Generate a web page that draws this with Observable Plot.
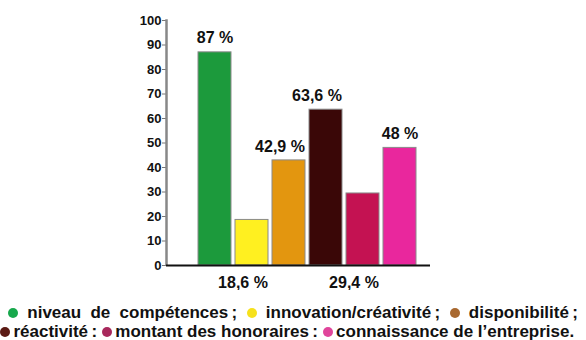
<!DOCTYPE html>
<html>
<head>
<meta charset="utf-8">
<script src="https://cdn.jsdelivr.net/npm/d3@7"></script>
<script src="https://cdn.jsdelivr.net/npm/@observablehq/plot@0.6"></script>
<style>
  html, body { margin: 0; padding: 0; background: #fff; }
  body { width: 586px; height: 340px; overflow: hidden; font-family: "Liberation Sans", Arial, sans-serif; }
  #legend { font-weight: bold; font-size: 17px; line-height: 19px; color: #111; padding: 13px 0 0 0; width: 578px; }
  #legend .l1 { text-align: justify; text-align-last: justify; padding-left: 8px; white-space: nowrap; }
  #legend .l2 { white-space: nowrap; }
  .dot { display: inline-block; width: 10px; height: 10px; border-radius: 50%; vertical-align: 0px; }
</style>
</head>
<body>
<div id="chart"></div>
<div id="legend"></div>
<script>
const categories = ["niveau de compétences", "innovation/créativité", "disponibilité", "réactivité", "montant des honoraires", "connaissance de l’entreprise"];
const values = [87, 18.6, 42.9, 63.6, 29.4, 48];
const valueLabels = ["87 %", "18,6 %", "42,9 %", "63,6 %", "29,4 %", "48 %"];
const labelBelow = [false, true, false, false, true, false];
const barColors = ["#1c9a3c", "#fff020", "#e3960f", "#3a0707", "#c41252", "#e9279d"];
const dotColors = ["#17a84c", "#f6e11c", "#a8682f", "#5a1a14", "#a8285c", "#e0459b"];
const yTicks = [0, 10, 20, 30, 40, 50, 60, 70, 80, 90, 100];

const data = categories.map((c, i) => ({i, cat: c, value: values[i], label: valueLabels[i], below: labelBelow[i], color: barColors[i]}));
const shifted = new Set([1, 2, 3, 4]);

const textOpts = {x: "cat", text: "label", fontSize: 16, fontWeight: "bold", fill: "#111"};

const chart = Plot.plot({
  width: 586,
  height: 290,
  marginLeft: 166,
  marginRight: 156,
  marginTop: 20,
  marginBottom: 25,
  style: {fontFamily: "Liberation Sans, Arial, sans-serif", background: "#fff"},
  x: {domain: categories, range: [194, 420], paddingInner: 0.1, paddingOuter: 0.05, axis: null},
  y: {domain: [0, 100], axis: null},
  marks: [
    Plot.barY(data, {x: "cat", y: "value", fill: "color", stroke: "#8a8a8a", strokeWidth: 1}),
    Plot.axisY({ticks: yTicks, label: null, tickSize: 4, tickPadding: 1, tickFormat: d => d, fontSize: 13, fontWeight: "bold", stroke: "#777", fill: "#111"}),
    Plot.frame({anchor: "left", stroke: "#888", strokeWidth: 2.5, strokeDasharray: "1.5,1"}),
    Plot.ruleY([0], {stroke: "#111", strokeWidth: 2}),
    Plot.text(data.filter(d => !d.below && !shifted.has(d.i)), {...textOpts, y: "value", dy: -14}),
    Plot.text(data.filter(d => !d.below && shifted.has(d.i)), {...textOpts, y: "value", dy: -14, dx: -9}),
    Plot.text(data.filter(d => d.below), {...textOpts, y: 0, dy: 17, dx: -9})
  ]
});
document.getElementById("chart").appendChild(chart);

const legend = document.getElementById("legend");
const line1 = document.createElement("div");
line1.className = "l1";
const line2 = document.createElement("div");
line2.className = "l2";
categories.forEach((c, i) => {
  const dot = `<span class="dot" style="background:${dotColors[i]}"></span>`;
  if (i < 3) {
    line1.innerHTML += (i ? " " : "") + dot + " " + c + "\u2009;";
  } else {
    line2.innerHTML += (i > 3 ? " " : "") + dot + "\u2009" + c + (i === 5 ? "." : "\u2009:");
  }
});
legend.appendChild(line1);
legend.appendChild(line2);
</script>
</body>
</html>
